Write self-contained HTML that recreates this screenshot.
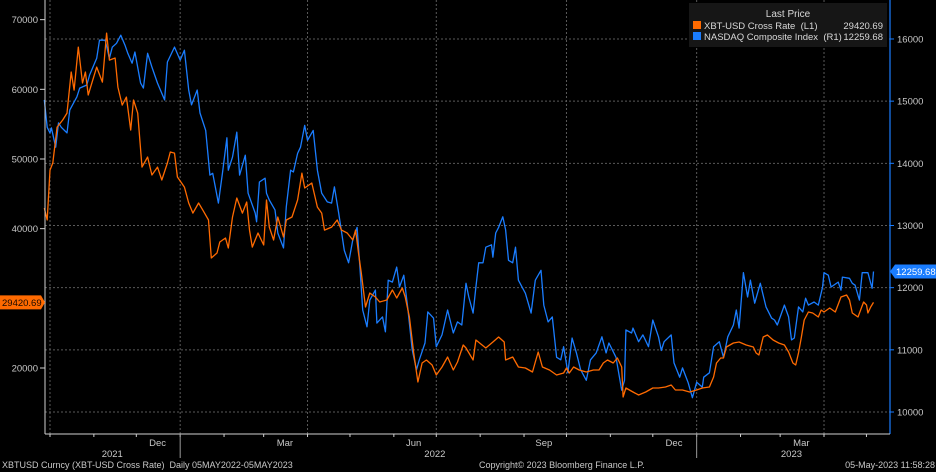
<!DOCTYPE html>
<html><head><meta charset="utf-8"><style>
html,body{margin:0;padding:0;background:#000;}
svg{display:block;font-family:"Liberation Sans",sans-serif;}
svg text{white-space:pre;}
</style></head><body>
<svg id="chart" width="936" height="472" viewBox="0 0 936 472" xmlns="http://www.w3.org/2000/svg">
<rect x="0" y="0" width="936" height="472" fill="#000"/>
<g id="grid"></g>
<g id="series"></g>
<g id="axes"></g>
<g>
<rect x="689" y="3" width="198" height="44" fill="#161616"/>
<text x="788" y="17" fill="#d8d8d8" font-size="10" text-anchor="middle">Last Price</text>
<g>
<rect x="693" y="21" width="8" height="8" fill="#ff6a00"/>
<text x="704" y="29" fill="#d8d8d8" font-size="9.5">XBT-USD Cross Rate  (L1)</text>
<text x="883" y="29" fill="#d8d8d8" font-size="9.5" text-anchor="end">29420.69</text>
</g>
<g>
<rect x="693" y="32" width="8" height="8" fill="#1a7dff"/>
<text x="704" y="40" fill="#d8d8d8" font-size="9.5">NASDAQ Composite Index  (R1)</text>
<text x="883" y="40" fill="#d8d8d8" font-size="9.5" text-anchor="end">12259.68</text>
</g>
</g>
<text x="2" y="468" fill="#c8c8c8" font-size="9">XBTUSD Curncy (XBT-USD Cross Rate)  Daily 05MAY2022-05MAY2023</text>
<text x="479" y="468" fill="#c8c8c8" font-size="9">Copyright© 2023 Bloomberg Finance L.P.</text>
<text x="935" y="468" fill="#c8c8c8" font-size="9" text-anchor="end">05-May-2023 11:58:28</text>
</svg>
<script>
// day offsets from 2021-10-01
const xbtDays = [-4,-2,0,2,5,9,12,15,17,20,23,25,27,33,37,40,42,46,48,51,54,57,59,62,65,69,72,76,79,83,85,88,90,93,95,98,101,105,108,112,114,118,120,124,126,129,132,136,139,141,143,147,151,153,155,158,161,165,167,171,175,178,180,185,189,192,194,199,203,206,210,214,216,218,220,223,226,230,233,238,242,245,249,251,254,257,260,263,266,270,273,277,281,285,288,292,294,299,301,308,313,317,321,322,327,331,336,341,343,345,348,353,358,363,365,367,370,374,379,384,388,391,394,398,401,404,405,407,412,416,421,426,430,435,439,442,447,452,457,461,466,469,471,474,476,478,483,487,492,497,499,501,504,507,511,515,519,522,525,527,529,531,533,536,539,543,545,547,551,555,559,563,565,567,571,575,577,578,580,582];
const xbtValues = [42960,41240,48410,49420,54580,55590,56590,62480,59890,66060,60900,62480,59180,63190,61040,68070,64200,64490,60320,57740,58890,54150,58460,56590,48840,50280,47700,48840,46980,49420,51000,50850,47410,46550,45970,43680,42240,43680,42670,41240,35790,36500,38080,38660,37220,41670,44400,42240,43820,39800,37360,39370,37650,44110,40230,38370,41670,38800,41240,41670,44110,47980,45830,46550,43100,42240,39800,40230,41240,39800,39370,38370,39800,36500,33630,28750,30760,30190,29470,29760,31190,30050,31480,30190,27320,22150,17990,20720,21150,20430,19000,20140,21580,19710,20860,23300,22870,21150,24020,22870,23730,24450,23730,21150,21580,20140,20000,19430,20860,22300,20140,19710,19000,19280,20000,19280,20140,19710,19430,19710,19710,20720,21150,20720,21440,20140,15840,17130,16560,16130,16560,17130,17130,17270,17560,16840,16840,16560,16840,17130,17270,18710,20720,21440,21440,23010,23590,23730,23300,23010,22150,21870,24450,24740,24020,23590,23300,22300,20720,20430,22150,24450,26890,28040,27890,27320,28320,28040,28610,28040,30190,30480,29760,27890,27320,29470,29040,27890,28750,29420.69];
const ndxDays = [-4,-2,0,1,4,6,8,12,14,19,21,26,28,33,35,39,42,44,47,50,53,55,58,60,64,66,69,72,76,78,81,83,88,92,95,98,100,104,106,110,113,115,119,122,125,126,129,132,134,138,140,145,146,148,152,153,155,159,161,165,167,170,172,175,177,180,182,186,189,192,196,199,201,204,208,211,214,217,219,221,224,226,230,231,235,237,239,242,245,247,250,253,256,259,261,265,267,271,273,277,281,285,288,291,294,296,299,301,303,306,308,312,313,315,317,320,322,324,327,329,331,336,340,343,347,349,352,355,358,361,363,366,369,372,375,379,382,386,390,393,395,400,404,406,407,411,412,416,419,423,426,430,432,434,439,441,445,447,451,454,457,461,462,466,469,473,476,479,483,485,487,490,493,495,498,502,506,510,512,514,519,522,524,526,529,532,534,536,540,543,546,547,550,552,557,559,560,565,567,569,572,574,578,581,582];
const ndxValues = [15020,14580,14490,14570,14260,14650,14580,14490,14860,15070,15210,15260,15420,15690,15980,15980,15690,15870,15930,16060,15900,15770,15610,15790,15290,15210,15770,15550,15290,15180,15020,15630,15870,15660,15820,15180,14940,15180,14810,14530,13810,13840,13360,13860,14410,13890,14100,14500,13810,14130,13520,13200,13060,13700,13760,13520,13410,13250,12880,12640,13300,13890,13860,14160,14260,14610,14370,14530,13890,13520,13380,13360,13620,13200,12600,12400,12770,12970,12330,11640,11370,11800,11960,11430,11530,11290,12120,12090,12330,12010,12200,11640,11000,10680,10840,11110,11610,11510,11050,11240,11640,11270,11450,11400,12070,11850,11590,12010,12400,12400,12650,12690,12490,12880,12970,13140,12930,12440,12400,12650,12120,11910,11590,12120,12280,11720,11450,11530,10880,10840,11050,10630,11190,10950,10680,10510,10840,10950,11210,10950,11110,10880,10350,10510,11320,11270,11350,11130,11240,11050,11480,11210,10990,11130,11240,10790,10560,10710,10470,10230,10480,10400,10560,10630,11050,11130,10880,11210,11400,11640,11350,12240,11850,12120,11750,12070,11690,11510,11480,11400,11720,11530,11160,11190,11690,11610,11830,11720,11770,11720,12010,12240,12200,12010,12090,11960,12170,12150,12070,12040,11800,12240,12240,11990,12259.68];
const leftTicks = [70000,60000,50000,40000,20000];
const rightTicks = [16000,15000,14000,13000,12000,11000,10000];
const quarterDays = [0,92,182,273,365,457,547];
const monthTickDays = [0,31,61,92,123,151,182,212,243,273,304,335,365,396,426,457,488,516,547,577];
const monthLabels = ["Dec","Mar","Jun","Sep","Dec","Mar"];
const monthLabelDays = [76,166,257,349,441,531];
const yearLabels = ["2021","2022","2023"];
const yearLabelDays = [44,272,524];
const lastXbt = 29420.69, lastNdx = 12259.68;

const NS="http://www.w3.org/2000/svg";
const X0=50, PXD=1.415;
function xs(d){return X0+d*PXD;}
function yL(v){return 368-(v-20000)*0.006967;}
function yR(v){return 412-(v-10000)*0.06217;}
function mk(tag,attrs,parent){const e=document.createElementNS(NS,tag);for(const k in attrs)e.setAttribute(k,attrs[k]);parent.appendChild(e);return e;}
const grid=document.getElementById('grid'), series=document.getElementById('series'), axes=document.getElementById('axes');
const PL=45, PR=890, PB=434;

rightTicks.forEach(v=>{
  const l=mk('line',{x1:PL,x2:PR,y1:yR(v),y2:yR(v),stroke:'#5a5a5a','stroke-width':1,'stroke-dasharray':'2,2'},grid);
  
  
});
quarterDays.forEach(d=>{
  const l=mk('line',{x1:xs(d),x2:xs(d),y1:0,y2:PB,stroke:'#5a5a5a','stroke-width':1,'stroke-dasharray':'2,2'},grid);
  
  
});

function path(days,vals,yf){return days.map((d,i)=>(i?'L':'M')+xs(d).toFixed(1)+','+yf(vals[i]).toFixed(1)).join(' ');}
const pN=mk('path',{d:path(ndxDays,ndxValues,yR),fill:'none',stroke:'#1a7dff','stroke-width':1.3,'stroke-linejoin':'round'},series);


const pX=mk('path',{d:path(xbtDays,xbtValues,yL),fill:'none',stroke:'#ff6a00','stroke-width':1.3,'stroke-linejoin':'round'},series);



const la=mk('line',{x1:PL,x2:PL,y1:0,y2:PB,stroke:'#d0d0d0','stroke-width':1},axes);


const ra=mk('line',{x1:PR,x2:PR,y1:0,y2:PB,stroke:'#1a7dff','stroke-width':1.2},axes);


const ba=mk('line',{x1:PL,x2:PR,y1:PB,y2:PB,stroke:'#d0d0d0','stroke-width':1},axes);



leftTicks.forEach(v=>{
  mk('line',{x1:PL-5,x2:PL,y1:yL(v),y2:yL(v),stroke:'#d0d0d0'},axes);
  const t=mk('text',{x:PL-7,y:yL(v)+3.5,fill:'#c8c8c8','font-size':9.5,'text-anchor':'end'},axes);
  t.textContent=v;
  
  
});
rightTicks.forEach(v=>{
  mk('line',{x1:PR,x2:PR+4,y1:yR(v),y2:yR(v),stroke:'#1a7dff'},axes);
  const t=mk('text',{x:PR+7,y:yR(v)+3.5,fill:'#c8c8c8','font-size':9.5},axes);
  t.textContent=v;
  
  
});
monthTickDays.forEach(d=>{mk('line',{x1:xs(d),x2:xs(d),y1:PB,y2:PB+3,stroke:'#d0d0d0'},axes);});
[92,457].forEach(d=>{mk('line',{x1:xs(d),x2:xs(d),y1:PB,y2:PB+24,stroke:'#9a9a9a'},axes);});
monthLabels.forEach((m,i)=>{
  const t=mk('text',{x:xs(monthLabelDays[i]),y:446,fill:'#c8c8c8','font-size':9.5,'text-anchor':'middle'},axes);
  t.textContent=m;
  
  
});
yearLabels.forEach((y,i)=>{
  const t=mk('text',{x:xs(yearLabelDays[i]),y:457,fill:'#c8c8c8','font-size':9.5,'text-anchor':'middle'},axes);
  t.textContent=y;
  
  
});
const ly=yL(lastXbt);
const tagL=mk('g',{},axes);


mk('path',{d:`M0,${ly-7} L41,${ly-7} L45,${ly} L41,${ly+7} L0,${ly+7} Z`,fill:'#ff6a00'},tagL);
const tl=mk('text',{x:2,y:ly+3.5,fill:'#1a0a00','font-size':9.5},tagL);tl.textContent=lastXbt.toFixed(2);
const ry=yR(lastNdx);
const tagR=mk('g',{},axes);


mk('path',{d:`M890,${ry} L895,${ry-7} L936,${ry-7} L936,${ry+7} L895,${ry+7} Z`,fill:'#1a7dff'},tagR);
const tr=mk('text',{x:896,y:ry+3.5,fill:'#ffffff','font-size':9.5},tagR);tr.textContent=lastNdx.toFixed(2);
</script>
</body></html>
